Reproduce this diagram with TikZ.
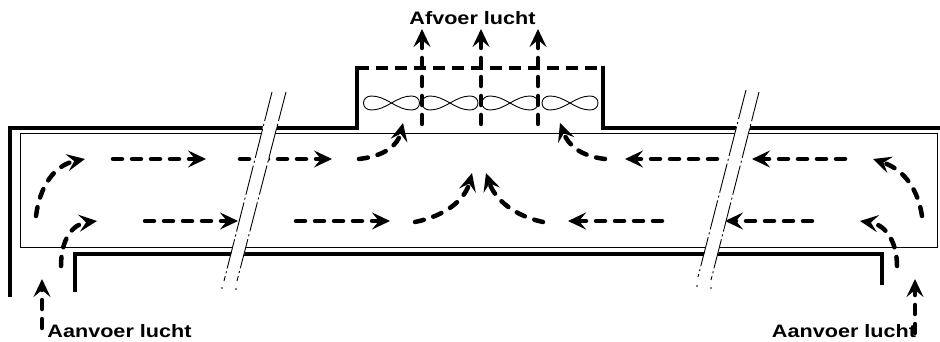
\documentclass[tikz,border=0pt]{standalone}
\usepackage{fontspec}
\usepackage{tikz}
\usetikzlibrary{arrows.meta}
\setmainfont{Liberation Sans}
\tikzset{
    wall/.style={black,line width=4.5pt,line join=miter},
    flow/.style={black,line width=4.5pt,line cap=round,dash pattern=on 9pt off 10pt,
        -{Stealth[length=18pt,width=17pt,inset=7pt]}},
    breakline/.style={black,line width=0.9pt,dash pattern=on 30pt off 3pt on 2pt off 3pt},
    label/.style={font=\bfseries\fontsize{18}{18}\selectfont,anchor=base,inner sep=0pt,xscale=1.2}
}
\begin{document}
\begin{tikzpicture}[x=1pt,y=-1pt]
    \useasboundingbox (0,0) rectangle (940,342);
    % Draw the inner duct
    \draw[black,line width=1pt] (20,134) rectangle (937,247);
    % Draw the walls
    \draw[wall] (10,297) -- (10,128) -- (357,128) -- (357,66);
    \draw[wall] (603,66) -- (603,128) -- (940,128);
    \draw[wall] (75,292) -- (75,254) -- (882,254) -- (882,285);
    \draw[wall,dash pattern=on 12pt off 7pt] (357,68) -- (603,68);
    % Draw the fan blades
    \foreach \c in {391.5,450,510,570}{
        \draw[black,line width=0.9pt] (\c,103)
            .. controls (\c-7,99) and (\c-13,96) .. (\c-20,96)
            .. controls (\c-25,96) and (\c-28,99) .. (\c-28,103)
            .. controls (\c-28,107) and (\c-25,110) .. (\c-20,110)
            .. controls (\c-13,110) and (\c-7,107) .. (\c,103)
            .. controls (\c+7,99) and (\c+13,96) .. (\c+20,96)
            .. controls (\c+25,96) and (\c+28,99) .. (\c+28,103)
            .. controls (\c+28,107) and (\c+25,110) .. (\c+20,110)
            .. controls (\c+13,110) and (\c+7,107) .. (\c,103);
    }
    % Draw the straight flows
    \foreach \xa/\xb in {113/206,240/332,845/752,717/625}{
        \draw[flow] (\xa,159) -- (\xb,159);
    }
    \foreach \xa/\xb in {145/238,296/390,662/568,812/725}{
        \draw[flow] (\xa,221) -- (\xb,221);
    }
    % Draw the curved flows
    \draw[flow] (36,216) .. controls (40,185) and (55,165) .. (85,159);
    \draw[flow] (61,266) .. controls (61,240) and (72,224) .. (97,221);
    \draw[flow] (922,216) .. controls (918,190) and (905,170) .. (873,159);
    \draw[flow] (897,266) .. controls (897,245) and (888,225) .. (860,221);
    \draw[flow] (359,159) .. controls (385,156) and (398,145) .. (403,123);
    \draw[flow] (605,159) .. controls (580,156) and (568,145) .. (560,123);
    \draw[flow] (415,222) .. controls (445,216) and (465,200) .. (472,173);
    \draw[flow] (543,222) .. controls (515,216) and (495,200) .. (486,173);
    % Draw the vertical flows
    \draw[flow] (42,328) -- (42,279);
    \draw[flow] (915,333) -- (915,279);
    \foreach \x in {422,481,538}{
        \draw[flow] (\x,124) -- (\x,29);
    }
    % Draw the breaks over everything
    \fill[white] (271.5,92) -- (285.5,92) -- (237.5,281) -- (224.5,281) -- cycle;
    \fill[white] (745.5,90) -- (758.5,92) -- (711.5,280) -- (698.5,277) -- cycle;
    \foreach \xt/\yt/\xb/\yb/\xm/\ym in {272/92/224/281/222/288,286/92/237/281/236/289,
                                          746/90/698/277/697/286,759/92/711/280/711/288}{
        \draw[breakline] (\xt,\yt) -- (\xb,\yb);
        \fill[black] (\xm,\ym) circle (0.8);
    }
    % Draw the labels
    \node[label] (afvoer) at (472.5,25) {Afvoer lucht};
    \node[label] (aanvoerleft) at (119.5,337) {Aanvoer lucht};
    \node[label] (aanvoerright) at (844,337) {Aanvoer lucht};
\end{tikzpicture}
\end{document}
